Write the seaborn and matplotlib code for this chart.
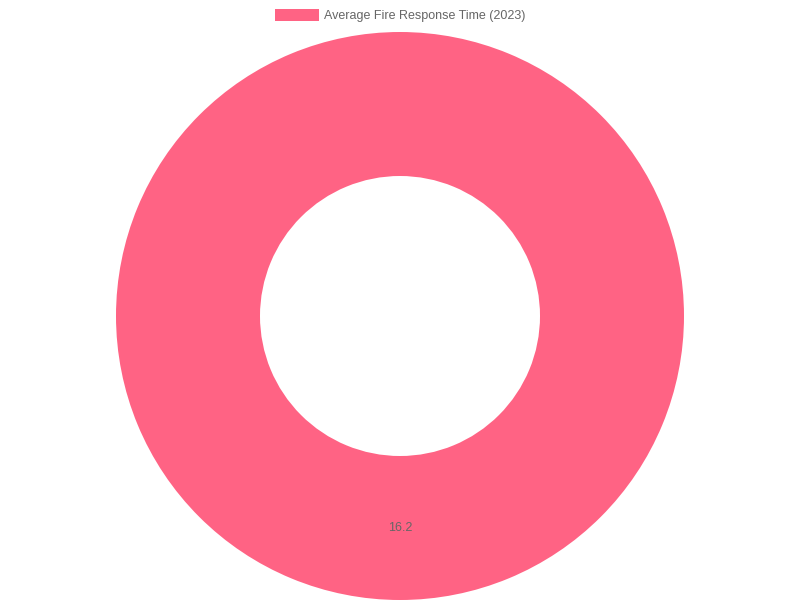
import matplotlib
matplotlib.use("Agg")
import matplotlib.pyplot as plt
import matplotlib.patches as mpatches
import seaborn as sns

# Data
labels = ["Average Fire Response Time (2023)"]
values = [16.2]
colors = ["#FF6384"]

sns.set_theme(style="white")
plt.rcParams["font.family"] = ["Liberation Sans", "DejaVu Sans"]

fig = plt.figure(figsize=(8, 6), dpi=100)
ax = fig.add_axes([0, 0, 1, 1])
ax.set_xlim(0, 800)
ax.set_ylim(0, 600)
ax.axis("off")

total = sum(values)
wedges, texts, autotexts = ax.pie(
    values,
    colors=colors,
    center=(400, 284),
    radius=284,
    startangle=90,
    counterclock=False,
    wedgeprops={"width": 144, "edgecolor": "white", "linewidth": 0},
    autopct=lambda p: f"{p * total / 100:.1f}",
    pctdistance=0.745,
    textprops={"color": "#666666", "fontsize": 9},
    frame=True,
)
ax.set_xlim(0, 800)
ax.set_ylim(0, 600)
ax.set_aspect("equal")
ax.axis("off")

handles = [mpatches.Patch(facecolor=c, edgecolor="none") for c in colors]
leg = fig.legend(
    handles,
    labels,
    loc="upper center",
    bbox_to_anchor=(0.5, 1.0),
    frameon=False,
    fontsize=9,
    handlelength=3.5,
    handleheight=1.1,
    handletextpad=0.4,
    borderaxespad=0.3,
)
for t in leg.get_texts():
    t.set_color("#666666")

fig.savefig("out.png", dpi=100)
